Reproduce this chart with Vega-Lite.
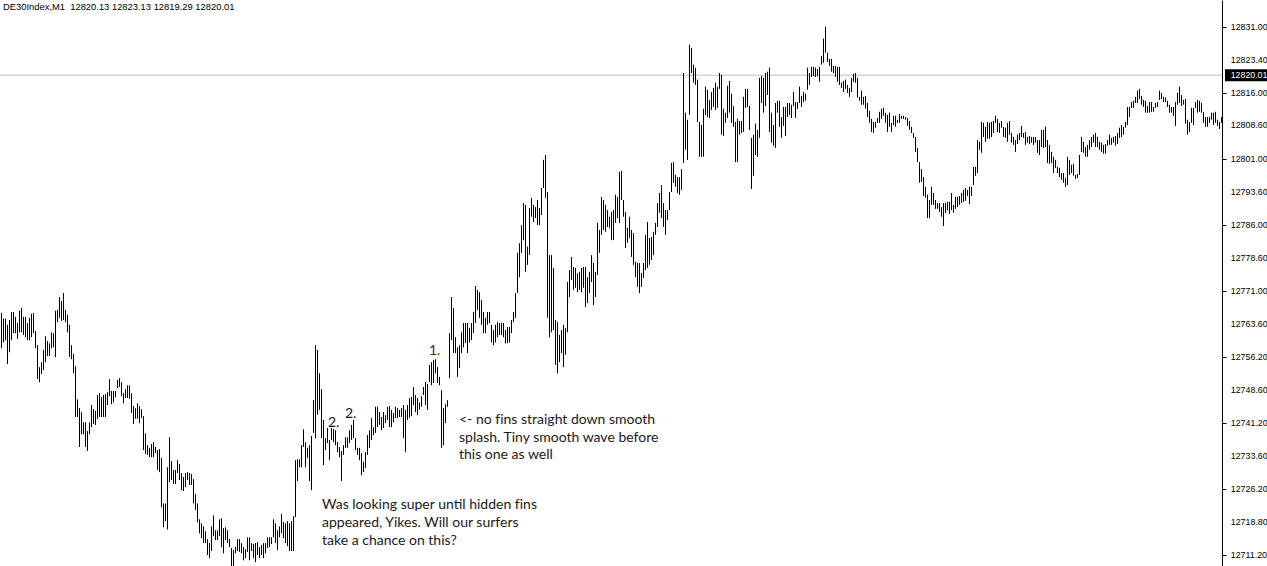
{
"$schema":"https://vega.github.io/schema/vega-lite/v6.json",
"width":1222,"height":566,
"autosize":{"type":"none"},
"padding":{"left":0,"top":0,"right":45,"bottom":0},
"background":"#ffffff",
"config":{"view":{"stroke":null}},
"datasets":{
"bars":[
{"t":0,"h":12766.1,"l":12758.1},{"t":1,"h":12764.8,"l":12759.4},{"t":2,"h":12764.8,"l":12759.9},{"t":3,"h":12763.4,"l":12754.5},{"t":4,"h":12764.5,"l":12757.2},{"t":5,"h":12766.3,"l":12759.9},{"t":6,"h":12766.3,"l":12761.5},{"t":7,"h":12765.2,"l":12761.5},{"t":8,"h":12763.8,"l":12760.2},{"t":9,"h":12766.6,"l":12761.7},
{"t":10,"h":12767.2,"l":12761.7},{"t":11,"h":12765.2,"l":12761.1},{"t":12,"h":12765.2,"l":12760.6},{"t":13,"h":12763.8,"l":12759.9},{"t":14,"h":12765.0,"l":12759.9},{"t":15,"h":12765.9,"l":12760.6},{"t":16,"h":12766.1,"l":12761.5},{"t":17,"h":12762.0,"l":12758.1},{"t":18,"h":12758.8,"l":12751.1},{"t":19,"h":12753.8,"l":12750.4},
{"t":20,"h":12754.9,"l":12752.2},{"t":21,"h":12757.7,"l":12753.1},{"t":22,"h":12760.8,"l":12754.9},{"t":23,"h":12759.7,"l":12756.3},{"t":24,"h":12759.2,"l":12756.3},{"t":25,"h":12761.7,"l":12758.1},{"t":26,"h":12761.5,"l":12758.3},{"t":27,"h":12766.6,"l":12756.1},{"t":28,"h":12766.8,"l":12764.0},{"t":29,"h":12769.7,"l":12765.0},
{"t":30,"h":12768.8,"l":12764.3},{"t":31,"h":12770.6,"l":12764.5},{"t":32,"h":12766.8,"l":12764.0},{"t":33,"h":12765.7,"l":12761.7},{"t":34,"h":12763.4,"l":12756.1},{"t":35,"h":12758.8,"l":12755.6},{"t":36,"h":12756.8,"l":12752.4},{"t":37,"h":12754.0,"l":12742.5},{"t":38,"h":12746.5,"l":12742.5},{"t":39,"h":12744.5,"l":12735.7},
{"t":40,"h":12743.6,"l":12738.6},{"t":41,"h":12741.3,"l":12738.6},{"t":42,"h":12741.3,"l":12735.7},{"t":43,"h":12739.3,"l":12734.8},{"t":44,"h":12741.3,"l":12738.6},{"t":45,"h":12745.2,"l":12740.2},{"t":46,"h":12744.3,"l":12740.9},{"t":47,"h":12743.9,"l":12740.7},{"t":48,"h":12747.5,"l":12742.1},{"t":49,"h":12747.9,"l":12742.5},
{"t":50,"h":12747.0,"l":12742.5},{"t":51,"h":12747.5,"l":12742.5},{"t":52,"h":12747.7,"l":12742.5},{"t":53,"h":12748.1,"l":12745.2},{"t":54,"h":12751.1,"l":12747.2},{"t":55,"h":12748.4,"l":12745.4},{"t":56,"h":12748.4,"l":12745.8},{"t":57,"h":12748.4,"l":12747.0},{"t":58,"h":12750.9,"l":12749.1},{"t":59,"h":12751.3,"l":12749.3},
{"t":60,"h":12750.4,"l":12747.2},{"t":61,"h":12747.9,"l":12745.6},{"t":62,"h":12748.8,"l":12746.8},{"t":63,"h":12749.7,"l":12746.8},{"t":64,"h":12749.7,"l":12746.6},{"t":65,"h":12747.9,"l":12743.4},{"t":66,"h":12745.0,"l":12740.9},{"t":67,"h":12744.5,"l":12742.1},{"t":68,"h":12745.6,"l":12742.1},{"t":69,"h":12745.0,"l":12741.1},
{"t":70,"h":12744.3,"l":12742.3},{"t":71,"h":12742.7,"l":12735.0},{"t":72,"h":12738.8,"l":12734.1},{"t":73,"h":12736.1,"l":12733.9},{"t":74,"h":12735.5,"l":12733.4},{"t":75,"h":12736.4,"l":12733.4},{"t":76,"h":12736.8,"l":12733.4},{"t":77,"h":12735.7,"l":12734.3},{"t":78,"h":12735.0,"l":12730.5},{"t":79,"h":12735.2,"l":12730.0},
{"t":80,"h":12733.2,"l":12722.0},{"t":81,"h":12722.9,"l":12717.5},{"t":82,"h":12722.9,"l":12718.9},{"t":83,"h":12731.1,"l":12717.0},{"t":84,"h":12737.9,"l":12727.7},{"t":85,"h":12732.5,"l":12728.2},{"t":86,"h":12730.5,"l":12727.3},{"t":87,"h":12730.5,"l":12727.3},{"t":88,"h":12732.7,"l":12729.8},{"t":89,"h":12731.8,"l":12728.2},
{"t":90,"h":12729.8,"l":12725.9},{"t":91,"h":12728.9,"l":12725.7},{"t":92,"h":12729.8,"l":12726.6},{"t":93,"h":12730.0,"l":12728.2},{"t":94,"h":12729.8,"l":12727.1},{"t":95,"h":12729.6,"l":12727.1},{"t":96,"h":12728.4,"l":12722.9},{"t":97,"h":12725.0,"l":12721.4},{"t":98,"h":12722.9,"l":12718.6},{"t":99,"h":12719.3,"l":12716.1},
{"t":100,"h":12718.4,"l":12715.0},{"t":101,"h":12717.7,"l":12713.9},{"t":102,"h":12716.6,"l":12713.9},{"t":103,"h":12714.8,"l":12711.2},{"t":104,"h":12713.9,"l":12710.5},{"t":105,"h":12717.7,"l":12712.1},{"t":106,"h":12720.2,"l":12715.5},{"t":107,"h":12716.8,"l":12714.6},{"t":108,"h":12716.8,"l":12714.6},{"t":109,"h":12719.3,"l":12715.5},
{"t":110,"h":12719.5,"l":12713.0},{"t":111,"h":12717.3,"l":12711.6},{"t":112,"h":12717.5,"l":12714.6},{"t":113,"h":12716.8,"l":12713.9},{"t":114,"h":12714.8,"l":12713.0},{"t":115,"h":12712.8,"l":12708.7},{"t":116,"h":12712.3,"l":12708.7},{"t":117,"h":12713.0,"l":12711.6},{"t":118,"h":12714.8,"l":12712.1},{"t":119,"h":12714.8,"l":12711.9},
{"t":120,"h":12713.9,"l":12711.6},{"t":121,"h":12713.0,"l":12710.0},{"t":122,"h":12712.5,"l":12710.5},{"t":123,"h":12715.2,"l":12711.9},{"t":124,"h":12715.2,"l":12710.0},{"t":125,"h":12713.9,"l":12712.1},{"t":126,"h":12713.7,"l":12710.5},{"t":127,"h":12713.9,"l":12709.6},{"t":128,"h":12714.1,"l":12711.2},{"t":129,"h":12713.0,"l":12710.5},
{"t":130,"h":12713.5,"l":12711.2},{"t":131,"h":12713.9,"l":12710.5},{"t":132,"h":12713.9,"l":12711.6},{"t":133,"h":12715.2,"l":12712.8},{"t":134,"h":12715.2,"l":12713.0},{"t":135,"h":12715.2,"l":12713.7},{"t":136,"h":12719.3,"l":12715.2},{"t":137,"h":12718.4,"l":12713.9},{"t":138,"h":12716.8,"l":12712.3},{"t":139,"h":12717.7,"l":12715.2},
{"t":140,"h":12720.5,"l":12716.1},{"t":141,"h":12718.7,"l":12715.0},{"t":142,"h":12718.4,"l":12713.9},{"t":143,"h":12718.9,"l":12713.2},{"t":144,"h":12718.4,"l":12712.1},{"t":145,"h":12718.9,"l":12712.1},{"t":146,"h":12720.0,"l":12712.1},{"t":147,"h":12732.7,"l":12719.8},{"t":148,"h":12732.9,"l":12728.0},{"t":149,"h":12732.9,"l":12731.1},
{"t":150,"h":12736.1,"l":12731.1},{"t":151,"h":12739.7,"l":12735.7},{"t":152,"h":12736.8,"l":12731.1},{"t":153,"h":12735.5,"l":12733.2},{"t":154,"h":12736.1,"l":12728.0},{"t":155,"h":12738.2,"l":12725.9},{"t":156,"h":12746.3,"l":12738.9},{"t":157,"h":12758.8,"l":12737.7},{"t":158,"h":12757.7,"l":12743.0},{"t":159,"h":12752.4,"l":12744.1},
{"t":160,"h":12748.8,"l":12737.7},{"t":161,"h":12741.8,"l":12731.6},{"t":162,"h":12737.7,"l":12735.0},{"t":163,"h":12740.0,"l":12736.6},{"t":164,"h":12737.3,"l":12732.7},{"t":165,"h":12740.0,"l":12737.3},{"t":166,"h":12739.8,"l":12736.8},{"t":167,"h":12739.5,"l":12736.1},{"t":168,"h":12736.8,"l":12734.5},{"t":169,"h":12735.7,"l":12733.4},
{"t":170,"h":12734.8,"l":12728.0},{"t":171,"h":12736.1,"l":12733.9},{"t":172,"h":12737.9,"l":12735.5},{"t":173,"h":12737.9,"l":12735.5},{"t":174,"h":12739.5,"l":12736.6},{"t":175,"h":12740.7,"l":12737.3},{"t":176,"h":12741.8,"l":12737.7},{"t":177,"h":12737.7,"l":12735.0},{"t":178,"h":12735.5,"l":12733.9},{"t":179,"h":12735.5,"l":12732.7},
{"t":180,"h":12734.3,"l":12729.3},{"t":181,"h":12732.3,"l":12730.0},{"t":182,"h":12734.5,"l":12730.9},{"t":183,"h":12738.4,"l":12733.9},{"t":184,"h":12739.5,"l":12735.5},{"t":185,"h":12742.3,"l":12737.3},{"t":186,"h":12740.2,"l":12738.4},{"t":187,"h":12744.8,"l":12738.9},{"t":188,"h":12744.8,"l":12740.2},{"t":189,"h":12743.6,"l":12740.7},
{"t":190,"h":12742.5,"l":12739.5},{"t":191,"h":12743.6,"l":12740.0},{"t":192,"h":12742.9,"l":12741.1},{"t":193,"h":12744.8,"l":12741.8},{"t":194,"h":12745.0,"l":12740.2},{"t":195,"h":12744.1,"l":12740.2},{"t":196,"h":12743.4,"l":12741.3},{"t":197,"h":12744.8,"l":12742.3},{"t":198,"h":12744.5,"l":12742.3},{"t":199,"h":12744.1,"l":12742.5},
{"t":200,"h":12744.5,"l":12742.5},{"t":201,"h":12745.2,"l":12737.7},{"t":202,"h":12744.1,"l":12734.5},{"t":203,"h":12745.2,"l":12741.8},{"t":204,"h":12746.8,"l":12742.3},{"t":205,"h":12747.0,"l":12742.7},{"t":206,"h":12749.3,"l":12745.2},{"t":207,"h":12747.5,"l":12743.6},{"t":208,"h":12746.8,"l":12742.9},{"t":209,"h":12745.8,"l":12744.1},
{"t":210,"h":12747.2,"l":12744.8},{"t":211,"h":12749.3,"l":12747.5},{"t":212,"h":12750.4,"l":12745.2},{"t":213,"h":12750.0,"l":12744.1},{"t":214,"h":12754.3,"l":12750.4},{"t":215,"h":12754.9,"l":12749.7},{"t":216,"h":12755.4,"l":12750.2},{"t":217,"h":12755.6,"l":12752.4},{"t":218,"h":12753.8,"l":12750.2},{"t":219,"h":12751.6,"l":12749.7},
{"t":220,"h":12748.6,"l":12735.5},{"t":221,"h":12744.5,"l":12736.1},{"t":222,"h":12745.4,"l":12741.1},{"t":223,"h":12746.3,"l":12744.8},{"t":224,"h":12761.5,"l":12751.3},{"t":225,"h":12769.7,"l":12759.9},{"t":226,"h":12767.2,"l":12757.0},{"t":227,"h":12760.6,"l":12757.0},{"t":228,"h":12758.3,"l":12751.6},{"t":229,"h":12758.8,"l":12753.6},
{"t":230,"h":12761.7,"l":12757.0},{"t":231,"h":12763.8,"l":12758.3},{"t":232,"h":12763.8,"l":12759.3},{"t":233,"h":12763.8,"l":12757.0},{"t":234,"h":12762.7,"l":12759.4},{"t":235,"h":12763.8,"l":12759.9},{"t":236,"h":12766.3,"l":12761.5},{"t":237,"h":12772.2,"l":12763.8},{"t":238,"h":12771.3,"l":12766.8},{"t":239,"h":12770.8,"l":12765.0},
{"t":240,"h":12769.0,"l":12763.4},{"t":241,"h":12766.3,"l":12761.5},{"t":242,"h":12765.0,"l":12761.5},{"t":243,"h":12766.3,"l":12763.4},{"t":244,"h":12766.3,"l":12763.8},{"t":245,"h":12763.4,"l":12759.4},{"t":246,"h":12762.2,"l":12758.8},{"t":247,"h":12763.4,"l":12759.4},{"t":248,"h":12764.0,"l":12760.6},{"t":249,"h":12763.8,"l":12761.1},
{"t":250,"h":12763.8,"l":12761.1},{"t":251,"h":12763.8,"l":12760.6},{"t":252,"h":12762.2,"l":12759.2},{"t":253,"h":12762.9,"l":12759.2},{"t":254,"h":12762.9,"l":12759.4},{"t":255,"h":12764.5,"l":12761.5},{"t":256,"h":12766.3,"l":12764.0},{"t":257,"h":12770.6,"l":12765.0},{"t":258,"h":12779.7,"l":12770.6},{"t":259,"h":12781.9,"l":12774.2},
{"t":260,"h":12786.0,"l":12779.7},{"t":261,"h":12791.0,"l":12782.6},{"t":262,"h":12790.6,"l":12775.4},{"t":263,"h":12781.1,"l":12777.0},{"t":264,"h":12789.9,"l":12779.2},{"t":265,"h":12792.2,"l":12787.9},{"t":266,"h":12790.6,"l":12786.7},{"t":267,"h":12790.1,"l":12787.6},{"t":268,"h":12791.7,"l":12786.0},{"t":269,"h":12789.9,"l":12786.0},
{"t":270,"h":12794.4,"l":12788.3},{"t":271,"h":12800.8,"l":12794.4},{"t":272,"h":12801.9,"l":12792.2},{"t":273,"h":12793.5,"l":12765.0},{"t":274,"h":12779.2,"l":12760.6},{"t":275,"h":12779.2,"l":12761.7},{"t":276,"h":12776.3,"l":12762.2},{"t":277,"h":12764.5,"l":12754.3},{"t":278,"h":12764.0,"l":12752.4},{"t":279,"h":12761.1,"l":12754.9},
{"t":280,"h":12762.2,"l":12757.0},{"t":281,"h":12763.4,"l":12753.8},{"t":282,"h":12762.7,"l":12756.6},{"t":283,"h":12773.1,"l":12761.7},{"t":284,"h":12775.8,"l":12769.7},{"t":285,"h":12778.8,"l":12773.6},{"t":286,"h":12776.5,"l":12771.3},{"t":287,"h":12776.3,"l":12771.8},{"t":288,"h":12775.1,"l":12770.8},{"t":289,"h":12775.4,"l":12771.3},
{"t":290,"h":12776.3,"l":12770.8},{"t":291,"h":12776.5,"l":12771.8},{"t":292,"h":12776.5,"l":12767.4},{"t":293,"h":12774.2,"l":12768.3},{"t":294,"h":12775.4,"l":12770.6},{"t":295,"h":12779.2,"l":12773.1},{"t":296,"h":12777.4,"l":12767.9},{"t":297,"h":12775.4,"l":12769.7},{"t":298,"h":12786.5,"l":12774.7},{"t":299,"h":12784.9,"l":12779.7},
{"t":300,"h":12792.4,"l":12783.8},{"t":301,"h":12791.7,"l":12784.9},{"t":302,"h":12790.6,"l":12784.5},{"t":303,"h":12789.4,"l":12785.6},{"t":304,"h":12787.9,"l":12785.4},{"t":305,"h":12789.0,"l":12782.6},{"t":306,"h":12789.4,"l":12782.6},{"t":307,"h":12792.9,"l":12786.5},{"t":308,"h":12792.4,"l":12787.6},{"t":309,"h":12798.1,"l":12786.5},
{"t":310,"h":12798.3,"l":12791.7},{"t":311,"h":12791.7,"l":12787.9},{"t":312,"h":12789.0,"l":12780.8},{"t":313,"h":12785.4,"l":12782.0},{"t":314,"h":12787.9,"l":12783.1},{"t":315,"h":12784.9,"l":12778.8},{"t":316,"h":12784.2,"l":12777.0},{"t":317,"h":12777.7,"l":12774.2},{"t":318,"h":12777.4,"l":12772.0},{"t":319,"h":12777.4,"l":12770.6},
{"t":320,"h":12775.1,"l":12772.0},{"t":321,"h":12777.4,"l":12774.0},{"t":322,"h":12783.8,"l":12775.8},{"t":323,"h":12786.7,"l":12776.3},{"t":324,"h":12783.1,"l":12777.0},{"t":325,"h":12783.3,"l":12778.1},{"t":326,"h":12784.5,"l":12779.2},{"t":327,"h":12786.5,"l":12783.8},{"t":328,"h":12791.0,"l":12785.6},{"t":329,"h":12793.3,"l":12788.8},
{"t":330,"h":12795.1,"l":12787.6},{"t":331,"h":12791.0,"l":12785.6},{"t":332,"h":12789.4,"l":12783.8},{"t":333,"h":12789.4,"l":12787.2},{"t":334,"h":12793.5,"l":12789.4},{"t":335,"h":12800.1,"l":12793.5},{"t":336,"h":12800.3,"l":12795.6},{"t":337,"h":12797.4,"l":12794.7},{"t":338,"h":12796.9,"l":12793.3},{"t":339,"h":12796.9,"l":12792.9},
{"t":340,"h":12798.7,"l":12794.0},{"t":341,"h":12820.5,"l":12800.1},{"t":342,"h":12811.5,"l":12803.1},{"t":343,"h":12809.9,"l":12800.8},{"t":344,"h":12826.9,"l":12811.0},{"t":345,"h":12826.2,"l":12820.5},{"t":346,"h":12822.4,"l":12818.3},{"t":347,"h":12821.7,"l":12817.8},{"t":348,"h":12819.0,"l":12809.4},{"t":349,"h":12809.4,"l":12801.5},
{"t":350,"h":12808.7,"l":12801.5},{"t":351,"h":12812.4,"l":12801.5},{"t":352,"h":12817.4,"l":12811.0},{"t":353,"h":12816.7,"l":12810.5},{"t":354,"h":12814.4,"l":12810.3},{"t":355,"h":12816.2,"l":12812.1},{"t":356,"h":12817.1,"l":12812.8},{"t":357,"h":12818.3,"l":12812.1},{"t":358,"h":12817.4,"l":12812.6},{"t":359,"h":12820.5,"l":12816.9},
{"t":360,"h":12820.1,"l":12806.5},{"t":361,"h":12812.4,"l":12806.2},{"t":362,"h":12811.5,"l":12809.2},{"t":363,"h":12817.6,"l":12810.3},{"t":364,"h":12818.7,"l":12811.5},{"t":365,"h":12815.8,"l":12809.2},{"t":366,"h":12813.0,"l":12808.3},{"t":367,"h":12809.4,"l":12800.3},{"t":368,"h":12810.1,"l":12800.3},{"t":369,"h":12809.6,"l":12806.5},
{"t":370,"h":12809.6,"l":12806.9},{"t":371,"h":12815.1,"l":12807.1},{"t":372,"h":12816.9,"l":12812.6},{"t":373,"h":12816.9,"l":12812.8},{"t":374,"h":12813.0,"l":12807.6},{"t":375,"h":12805.8,"l":12794.2},{"t":376,"h":12806.5,"l":12797.2},{"t":377,"h":12809.0,"l":12801.9},{"t":378,"h":12807.6,"l":12801.5},{"t":379,"h":12819.4,"l":12805.8},
{"t":380,"h":12819.8,"l":12813.7},{"t":381,"h":12819.4,"l":12811.5},{"t":382,"h":12820.5,"l":12813.0},{"t":383,"h":12820.8,"l":12815.5},{"t":384,"h":12821.7,"l":12807.1},{"t":385,"h":12811.5,"l":12804.7},{"t":386,"h":12808.7,"l":12804.0},{"t":387,"h":12813.7,"l":12803.5},{"t":388,"h":12814.2,"l":12811.5},{"t":389,"h":12814.2,"l":12808.3},
{"t":390,"h":12810.5,"l":12805.8},{"t":391,"h":12812.8,"l":12808.5},{"t":392,"h":12812.8,"l":12806.2},{"t":393,"h":12813.7,"l":12810.5},{"t":394,"h":12813.7,"l":12811.0},{"t":395,"h":12813.3,"l":12810.3},{"t":396,"h":12816.2,"l":12813.0},{"t":397,"h":12813.9,"l":12810.3},{"t":398,"h":12813.9,"l":12812.4},{"t":399,"h":12817.4,"l":12813.7},
{"t":400,"h":12815.3,"l":12812.8},{"t":401,"h":12816.2,"l":12813.9},{"t":402,"h":12815.8,"l":12814.2},{"t":403,"h":12821.7,"l":12816.7},{"t":404,"h":12820.5,"l":12817.8},{"t":405,"h":12821.9,"l":12819.6},{"t":406,"h":12821.9,"l":12819.8},{"t":407,"h":12821.7,"l":12819.6},{"t":408,"h":12821.4,"l":12819.8},{"t":409,"h":12821.9,"l":12818.5},
{"t":410,"h":12824.4,"l":12822.4},{"t":411,"h":12828.3,"l":12822.8},{"t":412,"h":12831.0,"l":12825.1},{"t":413,"h":12825.1,"l":12823.0},{"t":414,"h":12823.7,"l":12822.1},{"t":415,"h":12823.7,"l":12820.8},{"t":416,"h":12822.1,"l":12820.5},{"t":417,"h":12822.1,"l":12819.6},{"t":418,"h":12821.9,"l":12818.5},{"t":419,"h":12821.9,"l":12817.8},
{"t":420,"h":12818.3,"l":12817.1},{"t":421,"h":12818.7,"l":12816.2},{"t":422,"h":12819.0,"l":12816.9},{"t":423,"h":12817.8,"l":12816.0},{"t":424,"h":12817.1,"l":12815.1},{"t":425,"h":12819.4,"l":12816.2},{"t":426,"h":12820.3,"l":12818.5},{"t":427,"h":12820.5,"l":12818.3},{"t":428,"h":12819.4,"l":12814.9},{"t":429,"h":12815.1,"l":12814.2},
{"t":430,"h":12816.5,"l":12813.3},{"t":431,"h":12815.1,"l":12813.3},{"t":432,"h":12815.3,"l":12812.4},{"t":433,"h":12813.7,"l":12810.5},{"t":434,"h":12811.9,"l":12809.2},{"t":435,"h":12810.1,"l":12807.1},{"t":436,"h":12809.4,"l":12806.9},{"t":437,"h":12809.4,"l":12808.1},{"t":438,"h":12810.3,"l":12809.2},{"t":439,"h":12811.7,"l":12809.2},
{"t":440,"h":12812.4,"l":12810.1},{"t":441,"h":12812.6,"l":12810.8},{"t":442,"h":12811.5,"l":12809.2},{"t":443,"h":12811.0,"l":12807.1},{"t":444,"h":12811.5,"l":12808.3},{"t":445,"h":12809.2,"l":12807.1},{"t":446,"h":12810.8,"l":12808.7},{"t":447,"h":12810.8,"l":12808.3},{"t":448,"h":12809.9,"l":12809.2},{"t":449,"h":12811.2,"l":12809.2},
{"t":450,"h":12810.8,"l":12810.1},{"t":451,"h":12810.8,"l":12810.1},{"t":452,"h":12810.5,"l":12809.9},{"t":453,"h":12810.3,"l":12808.5},{"t":454,"h":12809.6,"l":12807.6},{"t":455,"h":12808.3,"l":12806.9},{"t":456,"h":12806.9,"l":12805.8},{"t":457,"h":12806.0,"l":12802.6},{"t":458,"h":12803.5,"l":12800.3},{"t":459,"h":12800.3,"l":12795.6},
{"t":460,"h":12798.7,"l":12795.8},{"t":461,"h":12796.9,"l":12792.6},{"t":462,"h":12794.7,"l":12792.2},{"t":463,"h":12792.9,"l":12787.6},{"t":464,"h":12791.7,"l":12787.6},{"t":465,"h":12794.7,"l":12790.6},{"t":466,"h":12793.3,"l":12790.6},{"t":467,"h":12791.7,"l":12789.7},{"t":468,"h":12791.0,"l":12789.7},{"t":469,"h":12791.0,"l":12789.0},
{"t":470,"h":12790.1,"l":12787.9},{"t":471,"h":12791.0,"l":12785.8},{"t":472,"h":12791.0,"l":12788.8},{"t":473,"h":12791.3,"l":12789.4},{"t":474,"h":12791.3,"l":12788.5},{"t":475,"h":12793.3,"l":12789.4},{"t":476,"h":12790.6,"l":12788.8},{"t":477,"h":12792.4,"l":12789.7},{"t":478,"h":12792.4,"l":12790.1},{"t":479,"h":12792.6,"l":12790.6},
{"t":480,"h":12793.3,"l":12791.0},{"t":481,"h":12794.0,"l":12791.3},{"t":482,"h":12794.4,"l":12791.5},{"t":483,"h":12794.0,"l":12792.6},{"t":484,"h":12794.7,"l":12790.8},{"t":485,"h":12794.7,"l":12792.6},{"t":486,"h":12799.2,"l":12795.1},{"t":487,"h":12799.2,"l":12797.2},{"t":488,"h":12805.3,"l":12797.8},{"t":489,"h":12804.9,"l":12803.1},
{"t":490,"h":12809.4,"l":12802.4},{"t":491,"h":12809.2,"l":12806.0},{"t":492,"h":12808.3,"l":12804.9},{"t":493,"h":12809.4,"l":12805.6},{"t":494,"h":12809.2,"l":12805.6},{"t":495,"h":12809.4,"l":12806.0},{"t":496,"h":12809.6,"l":12806.9},{"t":497,"h":12810.8,"l":12809.2},{"t":498,"h":12810.1,"l":12807.1},{"t":499,"h":12809.2,"l":12806.9},
{"t":500,"h":12809.6,"l":12808.1},{"t":501,"h":12808.3,"l":12806.0},{"t":502,"h":12808.1,"l":12805.8},{"t":503,"h":12809.2,"l":12804.9},{"t":504,"h":12809.6,"l":12806.5},{"t":505,"h":12806.9,"l":12804.7},{"t":506,"h":12806.0,"l":12804.2},{"t":507,"h":12805.3,"l":12802.6},{"t":508,"h":12806.5,"l":12804.4},{"t":509,"h":12806.9,"l":12805.3},
{"t":510,"h":12808.5,"l":12806.0},{"t":511,"h":12806.9,"l":12805.8},{"t":512,"h":12807.1,"l":12804.2},{"t":513,"h":12806.0,"l":12804.7},{"t":514,"h":12806.2,"l":12804.4},{"t":515,"h":12806.0,"l":12804.7},{"t":516,"h":12806.0,"l":12804.2},{"t":517,"h":12806.0,"l":12804.7},{"t":518,"h":12805.3,"l":12802.4},{"t":519,"h":12805.3,"l":12801.9},
{"t":520,"h":12807.6,"l":12803.7},{"t":521,"h":12807.6,"l":12803.5},{"t":522,"h":12808.3,"l":12803.7},{"t":523,"h":12805.3,"l":12800.1},{"t":524,"h":12804.2,"l":12799.9},{"t":525,"h":12802.6,"l":12800.1},{"t":526,"h":12801.5,"l":12797.8},{"t":527,"h":12800.8,"l":12799.0},{"t":528,"h":12799.2,"l":12797.8},{"t":529,"h":12799.0,"l":12796.9},
{"t":530,"h":12797.8,"l":12796.3},{"t":531,"h":12797.8,"l":12795.6},{"t":532,"h":12796.7,"l":12794.7},{"t":533,"h":12801.5,"l":12795.1},{"t":534,"h":12800.8,"l":12797.4},{"t":535,"h":12799.7,"l":12797.8},{"t":536,"h":12799.9,"l":12797.2},{"t":537,"h":12797.4,"l":12796.5},{"t":538,"h":12797.6,"l":12796.7},{"t":539,"h":12801.9,"l":12797.4},
{"t":540,"h":12806.0,"l":12802.6},{"t":541,"h":12804.9,"l":12802.4},{"t":542,"h":12803.7,"l":12801.5},{"t":543,"h":12804.2,"l":12801.5},{"t":544,"h":12805.3,"l":12803.1},{"t":545,"h":12806.0,"l":12803.7},{"t":546,"h":12806.5,"l":12804.7},{"t":547,"h":12806.9,"l":12803.7},{"t":548,"h":12806.0,"l":12803.7},{"t":549,"h":12804.9,"l":12803.1},
{"t":550,"h":12804.7,"l":12802.6},{"t":551,"h":12804.2,"l":12802.2},{"t":552,"h":12804.4,"l":12802.2},{"t":553,"h":12805.3,"l":12804.0},{"t":554,"h":12806.5,"l":12804.2},{"t":555,"h":12805.8,"l":12804.2},{"t":556,"h":12806.0,"l":12804.7},{"t":557,"h":12806.2,"l":12804.0},{"t":558,"h":12806.9,"l":12804.4},{"t":559,"h":12808.1,"l":12805.8},
{"t":560,"h":12808.7,"l":12806.0},{"t":561,"h":12808.3,"l":12806.5},{"t":562,"h":12809.4,"l":12808.1},{"t":563,"h":12812.8,"l":12808.7},{"t":564,"h":12812.8,"l":12810.5},{"t":565,"h":12813.9,"l":12812.6},{"t":566,"h":12814.2,"l":12812.6},{"t":567,"h":12815.1,"l":12813.7},{"t":568,"h":12816.5,"l":12813.7},{"t":569,"h":12816.9,"l":12814.6},
{"t":570,"h":12815.3,"l":12813.3},{"t":571,"h":12814.4,"l":12812.8},{"t":572,"h":12814.2,"l":12811.5},{"t":573,"h":12813.0,"l":12811.5},{"t":574,"h":12813.9,"l":12811.5},{"t":575,"h":12813.9,"l":12811.7},{"t":576,"h":12812.8,"l":12811.7},{"t":577,"h":12813.7,"l":12812.6},{"t":578,"h":12813.9,"l":12812.8},{"t":579,"h":12816.5,"l":12814.4},
{"t":580,"h":12816.0,"l":12814.6},{"t":581,"h":12815.1,"l":12813.9},{"t":582,"h":12814.9,"l":12813.9},{"t":583,"h":12814.2,"l":12812.8},{"t":584,"h":12813.3,"l":12811.5},{"t":585,"h":12812.8,"l":12811.5},{"t":586,"h":12812.8,"l":12810.8},{"t":587,"h":12813.9,"l":12808.5},{"t":588,"h":12816.0,"l":12813.3},{"t":589,"h":12817.4,"l":12813.7},
{"t":590,"h":12815.5,"l":12813.0},{"t":591,"h":12814.4,"l":12813.3},{"t":592,"h":12814.6,"l":12809.0},{"t":593,"h":12809.9,"l":12806.5},{"t":594,"h":12809.4,"l":12807.1},{"t":595,"h":12812.6,"l":12809.2},{"t":596,"h":12812.6,"l":12808.7},{"t":597,"h":12813.9,"l":12812.6},{"t":598,"h":12814.4,"l":12811.5},{"t":599,"h":12814.2,"l":12811.7},
{"t":600,"h":12813.7,"l":12811.5},{"t":601,"h":12811.7,"l":12809.2},{"t":602,"h":12810.5,"l":12808.3},{"t":603,"h":12810.5,"l":12808.3},{"t":604,"h":12810.5,"l":12809.2},{"t":605,"h":12811.5,"l":12809.9},{"t":606,"h":12811.5,"l":12808.7},{"t":607,"h":12811.7,"l":12809.2},{"t":608,"h":12809.9,"l":12808.5},{"t":609,"h":12809.4,"l":12807.8},
{"t":610,"h":12810.5,"l":12809.2}
],
"bid":[{"p":12820.01}],
"ticks":[{"v":12711.2},{"v":12718.8},{"v":12726.2},{"v":12733.6},{"v":12741.2},{"v":12748.6},{"v":12756.2},{"v":12763.6},{"v":12771.0},{"v":12778.6},{"v":12786.0},{"v":12793.6},{"v":12801.0},{"v":12808.6},{"v":12816.0},{"v":12823.4},{"v":12831.0}],
"header":[{"t":0.75,"p":12835.46,"txt":"DE30Index,M1\u00a0\u00a012820.13 12823.13 12819.29 12820.01"}],
"ones":[{"t":213.75,"p":12756.55,"txt":"1."}],
"twos":[{"t":163.25,"p":12740.22,"txt":"2."},{"t":171.75,"p":12742.27,"txt":"2."}],
"notes":[
{"t":160.25,"p":12721.56,"txt":"Was looking super until hidden f\u200cins\nappeared, Yikes. Will our surfers\ntake a chance on this?"},
{"t":228.75,"p":12740.9,"txt":"\u00a0<- no f\u200cins straight down smooth\nsplash. Tiny smooth wave before\nthis one as well"}
]
},
"layer":[
{"data":{"name":"bid"},"mark":{"type":"rule","color":"#c0c0c0","strokeWidth":1},
 "encoding":{"y":{"field":"p","type":"quantitative","scale":{"domain":[12708.71,12837.05],"nice":false,"zero":false},
   "axis":{"orient":"right","title":null,"grid":false,"labels":false,
    "values":[12711.2,12718.8,12726.2,12733.6,12741.2,12748.6,12756.2,12763.6,12771.0,12778.6,12786.0,12793.6,12801.0,12808.6,12816.0,12823.4,12831.0],
    "domainColor":"#000000","domainWidth":1,"tickColor":"#000000","tickSize":4,"tickWidth":1}}}},
{"data":{"name":"bars"},"mark":{"type":"rule","color":"#000000","strokeWidth":1},
 "encoding":{
  "x":{"field":"t","type":"quantitative","scale":{"domain":[-0.75,610.25],"nice":false,"zero":false},"axis":null},
  "y":{"field":"h","type":"quantitative"},
  "y2":{"field":"l"}}},
{"data":{"name":"ticks"},"mark":{"type":"text","align":"left","baseline":"middle","font":"Liberation Sans","fontSize":8.9,"color":"#000000"},
 "encoding":{"x":{"datum":614.6,"type":"quantitative"},"y":{"field":"v","type":"quantitative"},"text":{"field":"v","type":"quantitative","format":".2f"}}},
{"data":{"name":"bid"},"mark":{"type":"tick","orient":"horizontal","color":"#000000","opacity":1,"size":43,"thickness":12},
 "encoding":{"x":{"datum":622.5,"type":"quantitative"},"y":{"field":"p","type":"quantitative"}}},
{"data":{"name":"bid"},"mark":{"type":"text","align":"left","baseline":"middle","font":"Liberation Sans","fontSize":8.8,"color":"#ffffff"},
 "encoding":{"x":{"datum":614.6,"type":"quantitative"},"y":{"field":"p","type":"quantitative"},"text":{"field":"p","type":"quantitative","format":".2f"}}},
{"data":{"name":"header"},"mark":{"type":"text","align":"left","baseline":"middle","font":"Liberation Sans","fontSize":9.4,"color":"#000000"},
 "encoding":{"x":{"field":"t","type":"quantitative"},"y":{"field":"p","type":"quantitative"},"text":{"field":"txt"}}},
{"data":{"name":"ones"},"mark":{"type":"text","align":"left","baseline":"alphabetic","font":"Lato","fontSize":14,"color":"#6b1c00"},
 "encoding":{"x":{"field":"t","type":"quantitative"},"y":{"field":"p","type":"quantitative"},"text":{"field":"txt"}}},
{"data":{"name":"twos"},"mark":{"type":"text","align":"left","baseline":"alphabetic","font":"Lato","fontSize":14,"color":"#111133"},
 "encoding":{"x":{"field":"t","type":"quantitative"},"y":{"field":"p","type":"quantitative"},"text":{"field":"txt"}}},
{"data":{"name":"notes"},"mark":{"type":"text","align":"left","baseline":"alphabetic","font":"Lato","fontSize":14,"color":"#1a1a1a","lineBreak":"\n","lineHeight":17.6},
 "encoding":{"x":{"field":"t","type":"quantitative"},"y":{"field":"p","type":"quantitative"},"text":{"field":"txt"}}}
]
}
